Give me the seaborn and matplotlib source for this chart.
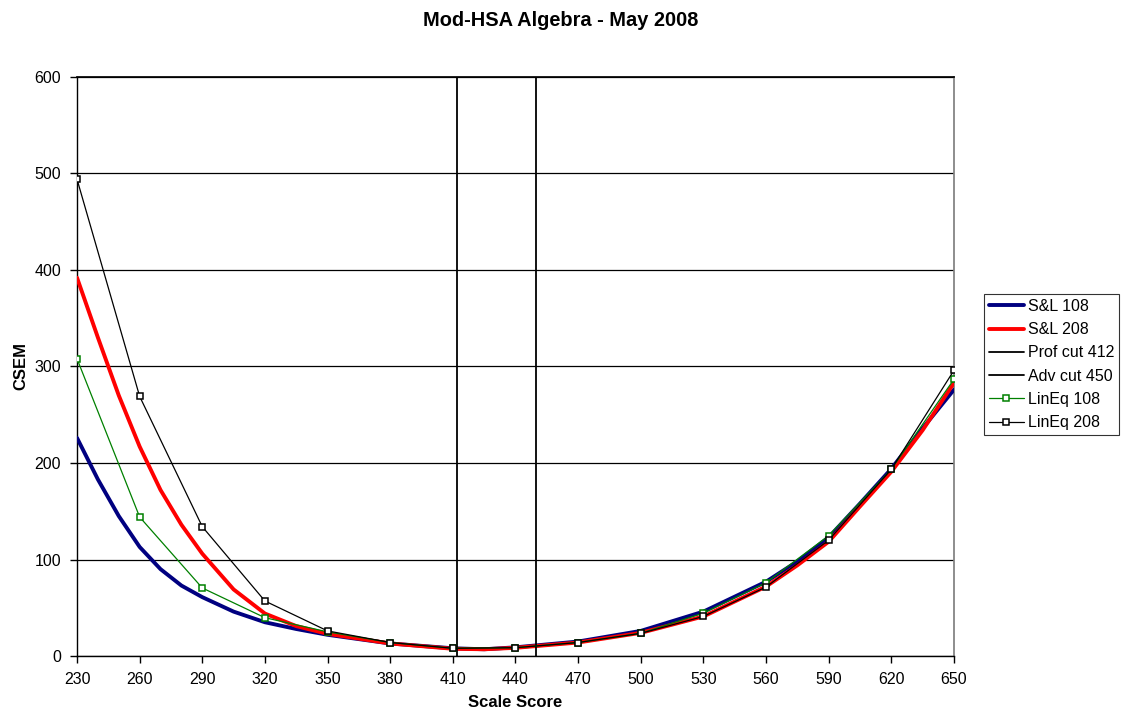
import matplotlib
matplotlib.use("Agg")
import matplotlib.pyplot as plt
import seaborn as sns
import pandas as pd

# ---- data ----
x_sl = [230, 240, 250, 260, 270, 280, 290, 305, 320, 335, 350, 380, 410, 425,
        440, 470, 500, 530, 560, 575, 590, 605, 620, 635, 650]
sl108 = [226, 183, 145, 113, 90, 73, 61, 46, 35, 28, 22, 13, 8, 7,
         9, 15, 26, 46, 77, 98, 123, 158, 194, 236, 276]
sl208 = [392, 330, 270, 217, 172, 136, 106, 69, 44, 31, 23, 13, 7.5, 7,
         8.5, 14, 24, 41, 72, 94, 118.5, 155, 191, 234, 283]

x_lin = [230, 260, 290, 320, 350, 380, 410, 440, 470, 500, 530, 560, 590, 620, 650]
lin108 = [308, 144, 70.5, 39.7, 25, 14, 8, 8.6, 14, 23.5, 44.5, 76, 124.7, 193.5, 286.7]
lin208 = [494, 269, 134, 57, 26, 14, 8, 8.6, 14, 23.5, 41, 71.5, 120, 193.5, 296]

cut_scores = [412, 450]
cut_labels = ["Prof cut 412", "Adv cut 450"]

x_ticks = list(range(230, 651, 30))
y_ticks = [0, 100, 200, 300, 400, 500, 600]

title = "Mod-HSA Algebra - May 2008"
x_label = "Scale Score"
y_label = "CSEM"

# ---- styling ----
sns.set_theme(style="white")
plt.rcParams["font.family"] = ["Liberation Sans", "DejaVu Sans"]
plt.rcParams["text.color"] = "black"
plt.rcParams["axes.labelcolor"] = "black"

fig = plt.figure(figsize=(11.21, 7.19), dpi=100)
ax = fig.add_axes([0.0687, 0.0876, 0.851 - 0.0687, 0.893 - 0.0876])

df_sl = pd.DataFrame({"x": x_sl, "sl108": sl108, "sl208": sl208})
df_lin = pd.DataFrame({"x": x_lin, "lin108": lin108, "lin208": lin208})

sns.lineplot(data=df_sl, x="x", y="sl108", ax=ax, color="#000080", linewidth=2.8,
             label="S&L 108", zorder=3)
sns.lineplot(data=df_sl, x="x", y="sl208", ax=ax, color="#ff0000", linewidth=2.8,
             label="S&L 208", zorder=3)
for c, lab in zip(cut_scores, cut_labels):
    ax.axvline(c, color="black", linewidth=1.3, label=lab, zorder=3)
sns.lineplot(data=df_lin, x="x", y="lin108", ax=ax, color="#008000", linewidth=0.9,
             marker="s", markersize=5, markerfacecolor="white",
             markeredgecolor="#008000", markeredgewidth=1.1,
             label="LinEq 108", zorder=4)
sns.lineplot(data=df_lin, x="x", y="lin208", ax=ax, color="black", linewidth=0.9,
             marker="s", markersize=5, markerfacecolor="white",
             markeredgecolor="black", markeredgewidth=1.1,
             label="LinEq 208", zorder=5)

ax.set_xlim(230, 650)
ax.set_ylim(0, 600)
ax.set_xticks(x_ticks)
ax.set_yticks(y_ticks)
ax.tick_params(axis="both", labelsize=11.5, colors="black", direction="out",
               length=5, width=1, bottom=True, left=True, pad=6.5)
ax.yaxis.grid(True, color="black", linewidth=0.9)
ax.xaxis.grid(False)
ax.set_axisbelow(True)
for s in ["left", "bottom"]:
    ax.spines[s].set_color("black")
    ax.spines[s].set_linewidth(1.0)
ax.spines["right"].set_color("#808080")
ax.spines["top"].set_color("black")

ax.set_xlabel(x_label, fontsize=12, fontweight="bold", labelpad=6, color="black")
ax.set_ylabel(y_label, fontsize=12, fontweight="bold", labelpad=4, color="black")
fig.suptitle(title, fontsize=14.4, fontweight="bold", x=0.5, y=0.985, va="top",
             color="black")

handles, labels = ax.get_legend_handles_labels()
ax.get_legend().remove()
leg = fig.legend(handles, labels, loc="upper left", bbox_to_anchor=(0.8778, 0.5911),
                 fontsize=11.5, frameon=True, fancybox=False, edgecolor="black",
                 handlelength=2.2, handletextpad=0.25, labelspacing=0.52,
                 borderpad=0.3, borderaxespad=0, labelcolor="black")
leg.get_frame().set_linewidth(0.8)

fig.savefig("out.png", dpi=100)
